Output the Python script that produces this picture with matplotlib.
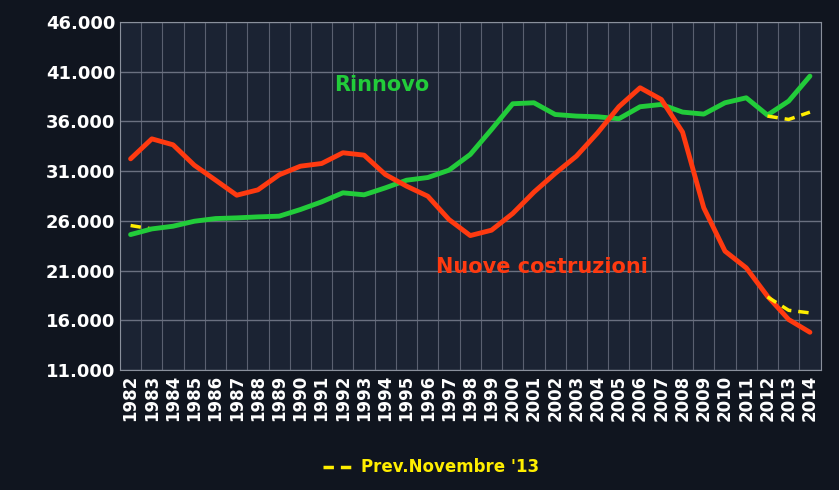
import matplotlib
matplotlib.use("Agg")
import matplotlib.pyplot as plt
import numpy as np

years = list(range(1982, 2015))
nuove = [32240, 34250, 33650, 31600, 30100, 28580, 29120, 30630, 31500, 31770, 32850, 32610,
         30660, 29490, 28480, 26130, 24520, 25060, 26740, 28890, 30770, 32510, 34860, 37480,
         39390, 38210, 34930, 27310, 22950, 21270, 18420, 16070, 14790]
rinnovo = [24620, 25190, 25460, 25960, 26230, 26300, 26400, 26470, 27140, 27910, 28820, 28620,
           29320, 30090, 30360, 31100, 32680, 35190, 37780, 37880, 36700, 36540, 36470, 36270,
           37480, 37710, 36940, 36740, 37880, 38380, 36640, 38050, 40560]
prev_years = [2012, 2013, 2014]
prev_rinnovo = [36540, 36200, 36940]
prev_nuove = [18350, 17000, 16740]
prev_start_years = [1982, 1983]
prev_start = [25530, 25190]
yticks = [11000, 16000, 21000, 26000, 31000, 36000, 41000, 46000]
ylabels = ["11.000", "16.000", "21.000", "26.000", "31.000", "36.000", "41.000", "46.000"]

fig = plt.figure(figsize=(8.39, 4.90), dpi=100)
fig.patch.set_facecolor("#10151f")
ax = fig.add_axes([0.143, 0.245, 0.835, 0.71])
ax.set_facecolor("#1b2333")
ax.set_xlim(1981.5, 2014.5)
ax.set_ylim(11000, 46000)
ax.set_yticks(yticks)
ax.set_yticklabels(ylabels, color="white", fontsize=13, fontweight="bold")
ax.set_xticks(years)
ax.set_xticklabels([str(y) for y in years], rotation=90, color="white", fontsize=12, fontweight="bold")
ax.set_xticks(np.arange(1981.5, 2015, 1), minor=True)
ax.grid(True, axis="y", color="#6a7080", lw=1)
ax.grid(True, axis="x", which="minor", color="#5a6070", lw=0.8)
ax.tick_params(axis="x", which="both", length=0)
ax.tick_params(axis="y", length=0)
for s in ax.spines.values():
    s.set_color("#8a909c")

ax.plot(years, rinnovo, color="#22cc3a", lw=3.5, solid_capstyle="round")
ax.plot(years, nuove, color="#ff3a10", lw=3.5, solid_capstyle="round")
ax.plot(prev_years, prev_rinnovo, color="#ffee00", lw=2.5, ls=(0, (3, 2)))
ax.plot(prev_years, prev_nuove, color="#ffee00", lw=2.5, ls=(0, (3, 2)))
ax.plot(prev_start_years, prev_start, color="#ffee00", lw=2.5, ls=(0, (3, 2)), zorder=1)

ax.text(1991.6, 39700, "Rinnovo", color="#22cc3a", fontsize=15, fontweight="bold", va="center")
ax.text(1996.4, 21400, "Nuove costruzioni", color="#ff3a10", fontsize=15, fontweight="bold", va="center")

fig.lines.append(plt.Line2D([0.385, 0.425], [0.047, 0.047], color="#ffee00", lw=2.5,
                            ls=(0, (3, 2)), transform=fig.transFigure))
fig.text(0.43, 0.047, "Prev.Novembre '13", color="#ffee00", fontsize=12, fontweight="bold", va="center")

fig.savefig("out.png", facecolor=fig.get_facecolor())
